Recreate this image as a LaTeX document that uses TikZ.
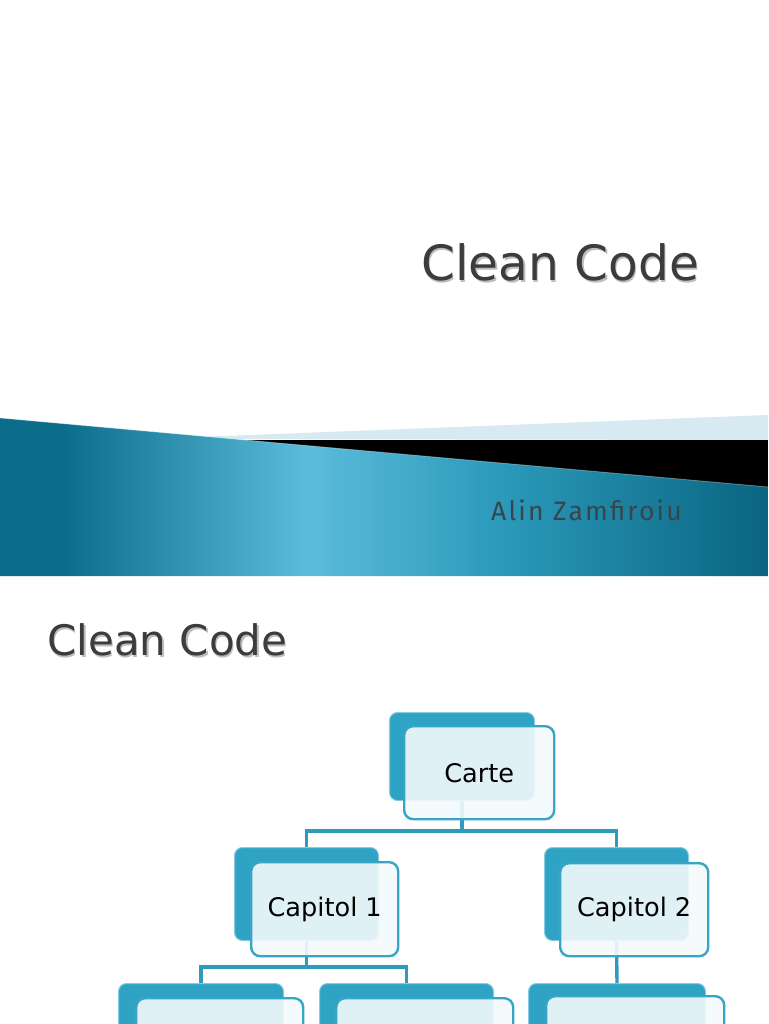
\documentclass[tikz,border=0pt]{standalone}
\usepackage{fontspec}
\setmainfont{DejaVu Sans}
\newfontfamily\alinfont[LetterSpace=8]{Fira Sans}
\definecolor{titlegray}{HTML}{3C3C3C}
\definecolor{titleshadow}{HTML}{BDBDBD}
\definecolor{alingray}{HTML}{38454C}
\definecolor{bandlight}{HTML}{5CBCDB}
\definecolor{bandmid}{HTML}{2A98B9}
\definecolor{banddark}{HTML}{0B6D8A}
\definecolor{banddarktwo}{HTML}{0A6580}
\definecolor{wedge}{HTML}{D7E9F1}
\definecolor{backfill}{HTML}{2FA3C3}
\definecolor{backedge}{HTML}{86CCE0}
\definecolor{frontedge}{HTML}{38A5C6}
\definecolor{frontfill}{HTML}{F4FAFC}
\definecolor{tubecol}{HTML}{2F9ABC}
\pgfdeclarehorizontalshading{bandshade}{100bp}{color(0bp)=(banddark); color(25bp)=(banddark); color(29bp)=(banddark); color(45bp)=(bandlight); color(58bp)=(bandmid); color(75bp)=(banddarktwo); color(100bp)=(banddarktwo)}
\tikzset{
  backbox/.style={draw=backedge, line width=1pt, fill=backfill, rounded corners=8pt, anchor=north west, inner sep=0pt},
  frontbox/.style={draw=frontedge, line width=2.4pt, fill=frontfill, fill opacity=0.9, text opacity=1, rounded corners=9pt, anchor=north west, inner sep=0pt, font=\fontsize{25.6}{28}\selectfont, text=black},
  tube/.style={draw=tubecol, line width=3.4pt},
  bigtitle/.style={anchor=base west, inner sep=0pt, text=titlegray},
  shadowtitle/.style={anchor=base west, inner sep=0pt, text=titleshadow}
}
\begin{document}
\begin{tikzpicture}[x=1pt,y=-1pt]
\clip (0,0) rectangle (768,1024);
\fill[white] (0,0) rectangle (768,1024);
% title slide band
\fill[wedge] (147,439) -- (768,415) -- (768,440) -- cycle;
\fill[black] (150,440) -- (768,440) -- (768,495) -- (150,495) -- cycle;
\shade[shading=bandshade] (0,418) -- (768,487) -- (768,576) -- (0,576) -- cycle;
\draw[white, opacity=.35, line width=.8pt] (0,418) -- (768,487);
% titles
\node[shadowtitle, font=\fontsize{48.6}{50}\selectfont] (title1s) at (422.5,282) {Clean Code};
\node[bigtitle, font=\fontsize{48.6}{50}\selectfont] (title1) at (421,280) {Clean Code};
\node[anchor=base west, inner sep=0pt, text=alingray, font=\alinfont\fontsize{26.6}{28}\selectfont] (author) at (491,520) {Alin Zamfiroiu};
\node[shadowtitle, font=\fontsize{42}{44}\selectfont] (title2s) at (48.5,657) {Clean Code};
\node[bigtitle, font=\fontsize{42}{44}\selectfont] (title2) at (47,655) {Clean Code};
% back boxes
\node[backbox, minimum width=145pt, minimum height=88pt] (carteB) at (389,712) {};
\node[backbox, minimum width=144pt, minimum height=93pt] (cap1B) at (234,847) {};
\node[backbox, minimum width=144pt, minimum height=93pt] (cap2B) at (544,847) {};
\node[backbox, minimum width=165pt, minimum height=93pt] (s1B) at (118,983) {};
\node[backbox, minimum width=174pt, minimum height=93pt] (s2B) at (319,983) {};
\node[backbox, minimum width=177pt, minimum height=93pt] (s3B) at (528,983) {};
% connectors
\coordinate (busA) at (0,831);
\coordinate (busB) at (0,967);
\draw[tube] (carteB.south) -- (carteB.south |- busA) -| (cap1B.north);
\draw[tube] (carteB.south |- busA) -| (cap2B.north);
\draw[tube] (cap1B.south) -- (cap1B.south |- busB) -| (s1B.north);
\draw[tube] (cap1B.south |- busB) -| (s2B.north);
\draw[tube] (cap2B.south) -- (s3B.north);
% front boxes
\node[frontbox, minimum width=150pt, minimum height=93pt] (carte) at (403,725) {Carte};
\node[frontbox, minimum width=147pt, minimum height=94pt] (cap1) at (250,861) {Capitol 1};
\node[frontbox, minimum width=148pt, minimum height=93pt] (cap2) at (559,862) {Capitol 2};
\node[frontbox, minimum width=167pt, minimum height=93pt] (s1) at (135,997) {};
\node[frontbox, minimum width=177pt, minimum height=93pt] (s2) at (335,997) {};
\node[frontbox, minimum width=178pt, minimum height=93pt] (s3) at (545,995) {};
\end{tikzpicture}
\end{document}
